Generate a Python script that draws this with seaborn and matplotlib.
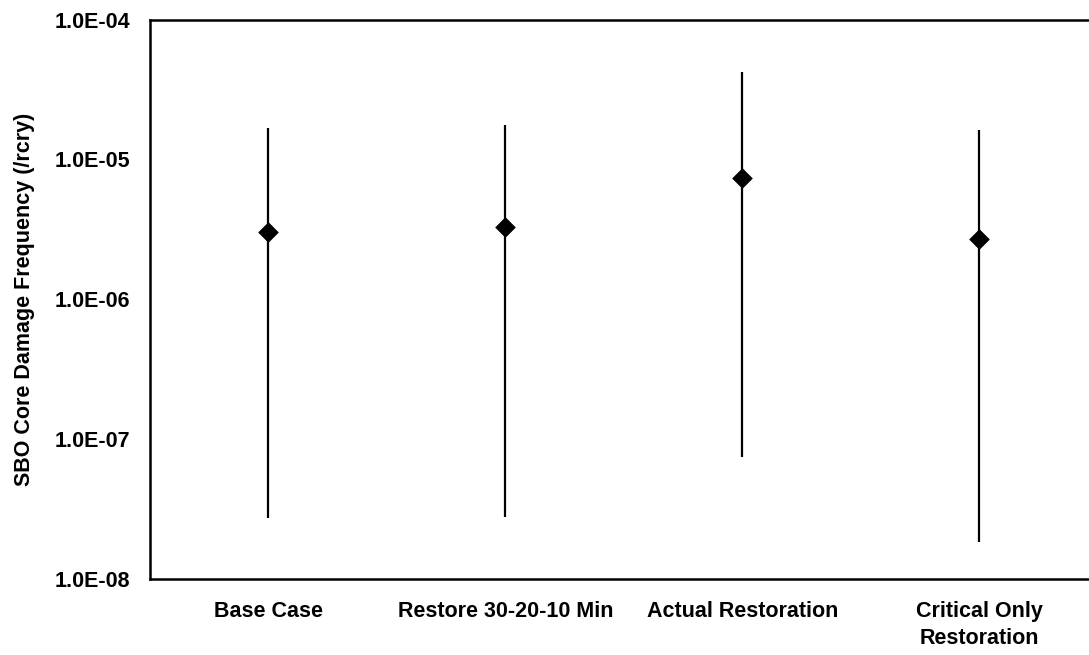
import numpy as np
import pandas as pd
import matplotlib
matplotlib.use("Agg")
import matplotlib.pyplot as plt
import matplotlib.ticker as mticker
import seaborn as sns

# --- data (per reactor-year) ---
cases = ["Base Case", "Restore 30-20-10 Min", "Actual Restoration",
         "Critical Only\nRestoration"]
cdf_mean = [3.05e-6, 3.30e-6, 7.4e-6, 2.70e-6]
cdf_low = [2.73e-8, 2.79e-8, 7.5e-8, 1.85e-8]
cdf_high = [1.67e-5, 1.76e-5, 4.24e-5, 1.63e-5]
y_ticks = [1e-8, 1e-7, 1e-6, 1e-5, 1e-4]

df = pd.DataFrame({"case": cases, "mean": cdf_mean, "low": cdf_low, "high": cdf_high})

sns.set_style("white")
plt.rcParams["font.family"] = ["Liberation Sans", "DejaVu Sans"]
plt.rcParams["font.weight"] = "bold"
plt.rcParams["text.color"] = "black"
plt.rcParams["axes.labelcolor"] = "black"
plt.rcParams["xtick.color"] = "black"
plt.rcParams["ytick.color"] = "black"

fig = plt.figure(figsize=(10.89, 6.55), dpi=100)
ax = fig.add_axes([0.1377, 0.116, 0.8705, 0.854])

# uncertainty ranges
ax.vlines(df["case"], df["low"], df["high"], color="black", linewidth=1.6, zorder=2)

# mean values as diamonds
sns.scatterplot(data=df, x="case", y="mean", marker="D", s=100, color="black",
                edgecolor="black", linewidth=0.5, zorder=3, ax=ax, legend=False)

ax.set_yscale("log")
ax.set_ylim(1e-8, 1e-4)
ax.set_xlim(-0.5, 3.5)
ax.set_yticks(y_ticks)
ax.yaxis.set_major_formatter(mticker.FuncFormatter(lambda v, p: f"{v:.1E}"))
ax.yaxis.set_minor_locator(mticker.NullLocator())

ax.set_xlabel("")
ax.set_ylabel("SBO Core Damage Frequency (/rcry)", fontsize=15.5, fontweight="bold",
              color="black", labelpad=14)

ax.tick_params(axis="y", length=0, pad=14, labelsize=15.5, labelcolor="black")
ax.tick_params(axis="x", length=0, pad=16, labelsize=15.5, labelcolor="black")
for lab in ax.get_xticklabels():
    lab.set_fontweight("bold")
    lab.set_linespacing(1.35)
for lab in ax.get_yticklabels():
    lab.set_fontweight("bold")

for side in ["top", "left", "bottom"]:
    ax.spines[side].set_color("black")
    ax.spines[side].set_linewidth(1.8)
ax.spines["right"].set_visible(False)

fig.savefig("out.png", dpi=100)
